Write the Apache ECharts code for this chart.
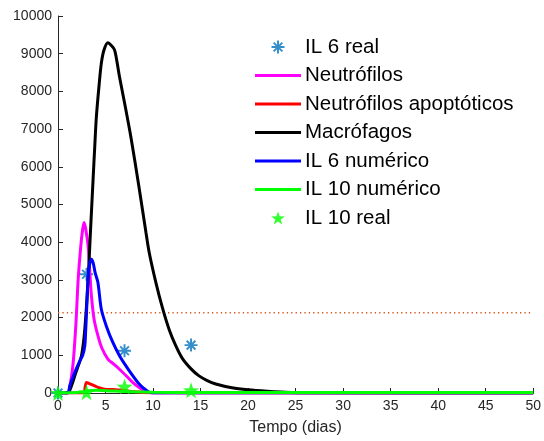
<!DOCTYPE html>
<html>
<head>
<meta charset="utf-8">
<script src="https://cdn.jsdelivr.net/npm/echarts@6/dist/echarts.min.js"></script>
<style>
  html, body { margin: 0; padding: 0; background: #fff; }
  #chart { width: 544px; height: 441px; }
</style>
</head>
<body>
<div id="chart"></div>
<script>
// curvas do modelo (dias, valor) e dados reais

var neutroT = [0, 1.0, 1.3, 1.6, 1.9, 2.12, 2.4, 2.6, 2.75, 2.95, 3.17, 3.35, 3.52, 3.8, 4.2, 4.6, 5.25, 5.8, 6.47, 7.2, 7.86, 8.4, 8.9, 9.5, 10, 50];
var neutroV = [0, 0, 250, 810, 1900, 3000, 3900, 4350, 4520, 4300, 3900, 3200, 2570, 1950, 1520, 1200, 900, 780, 630, 450, 280, 170, 90, 20, 0, 0];

var apoptT = [0, 2.7, 2.85, 3.0, 3.2, 3.5, 3.86, 4.3, 4.9, 5.8, 6.65, 7.5, 8.5, 9.5, 50];
var apoptV = [0, 0, 150, 280, 260, 230, 190, 140, 100, 90, 80, 50, 25, 5, 0];

var macroT = [0, 1.0, 1.5, 1.77, 2.1, 2.47, 2.75, 3.0, 3.17, 3.4, 3.69, 3.86, 4.03, 4.31, 4.56, 4.84, 5.25, 5.6, 5.95, 6.23, 6.47, 7.0, 7.69, 8.5, 9.26, 9.6, 10.3, 11.0, 11.7, 12.4, 13.08, 14.0, 14.8, 15.7, 16.6, 18.3, 20, 22, 23.5, 26, 50];
var macroV = [0, 0, 250, 460, 700, 990, 1500, 2310, 3000, 4200, 5660, 6500, 7300, 8130, 8750, 9100, 9290, 9220, 9100, 8750, 8390, 7700, 6760, 5500, 4250, 3720, 2930, 2250, 1680, 1250, 920, 640, 460, 330, 240, 140, 85, 45, 25, 5, 0];

var il6T = [0, 1.0, 1.25, 1.77, 2.3, 2.6, 2.82, 2.92, 3.0, 3.17, 3.35, 3.52, 3.7, 3.9, 4.2, 4.56, 5.08, 5.77, 6.47, 7.2, 7.86, 8.4, 8.9, 9.6, 10.2, 50];
var il6V = [0, 0, 200, 550, 850, 1000, 1250, 1700, 2130, 3100, 3450, 3550, 3450, 3200, 2930, 2220, 1780, 1340, 990, 700, 460, 280, 150, 20, 0, 0];

var il10T = [0, 1, 2, 2.8, 3.2, 4, 5, 6, 7, 8, 10, 15, 50];
var il10V = [0, 5, 15, 30, 60, 70, 60, 50, 40, 30, 20, 10, 10];

var il6RealT = [0, 3, 7, 14];
var il6RealV = [0, 3150, 1120, 1270];

var il10RealT = [0, 3, 7, 14];
var il10RealV = [0, 20, 170, 70];

var limiar = 2130;

var names = ['IL 6 real', 'Neutrófilos', 'Neutrófilos apoptóticos', 'Macrófagos', 'IL 6 numérico', 'IL 10 numérico', 'IL 10 real'];

function pares(t, v) {
    return t.map(function (d, i) { return [d, v[i]]; });
}

var asterisco = 'path://M0 8.5L20 8.5L20 11.5L0 11.5Z M8.5 0L11.5 0L11.5 20L8.5 20Z M4.34 2.22L17.78 15.66L15.66 17.78L2.22 4.34Z M2.22 15.66L15.66 2.22L17.78 4.34L4.34 17.78Z';
var estrela = 'path://M10 0L12.35 6.76L19.51 6.91L13.8 11.24L15.88 18.09L10 14L4.12 18.09L6.2 11.24L0.49 6.91L7.65 6.76Z';
var traco = 'path://M0 0L46 0L46 3L0 3Z';

var chart = echarts.init(document.getElementById('chart'));

function curva(nome, t, v, cor) {
    return {
        name: nome,
        type: 'line',
        data: pares(t, v),
        symbol: 'none',
        showSymbol: false,
        smooth: 0.3,
        lineStyle: { color: cor, width: 3 },
        itemStyle: { color: cor }
    };
}

var legendData = names.map(function (n) {
    if (n === 'IL 6 real') return { name: n, icon: asterisco };
    if (n === 'IL 10 real') return { name: n, icon: estrela };
    return { name: n, icon: traco };
});

var option = {
    animation: false,
    textStyle: { fontFamily: 'Liberation Sans, Arial, sans-serif' },
    grid: { left: 58, right: 7, top: 16, bottom: 47 },
    legend: {
        data: legendData,
        orient: 'vertical',
        left: 250,
        top: 31,
        itemWidth: 46,
        itemHeight: 13,
        itemGap: 6.5,
        textStyle: { fontSize: 20.5, color: '#000', lineHeight: 22, padding: [0, 0, 0, -1] }
    },
    xAxis: {
        type: 'value',
        min: 0,
        max: 50,
        interval: 5,
        name: 'Tempo (dias)',
        nameLocation: 'middle',
        nameGap: 27,
        nameTextStyle: { fontSize: 16, color: '#262626' },
        axisLine: { lineStyle: { color: '#262626', width: 1 } },
        axisTick: { inside: true, length: 5, lineStyle: { color: '#262626' } },
        axisLabel: { fontSize: 14, color: '#262626', margin: 6 },
        splitLine: { show: false }
    },
    yAxis: {
        type: 'value',
        min: 0,
        max: 10000,
        interval: 1000,
        axisLine: { show: true, lineStyle: { color: '#262626', width: 1 } },
        axisTick: { show: true, inside: true, length: 5, lineStyle: { color: '#262626' } },
        axisLabel: {
            fontSize: 14, color: '#262626', margin: 6,
            formatter: function (v) { return String(v); }
        },
        splitLine: { show: false }
    },
    series: [
        {
            name: 'limiar',
            type: 'line',
            data: [[0, limiar], [50, limiar]],
            symbol: 'none',
            lineStyle: { color: '#D95319', width: 1.4, type: [1.3, 3.1] },
            silent: true,
            z: 1
        },
        {
            name: 'IL 6 real',
            type: 'scatter',
            data: pares(il6RealT, il6RealV),
            symbol: asterisco,
            symbolSize: 13,
            itemStyle: { color: '#0072BD' },
            z: 2
        },
        curva('Neutrófilos', neutroT, neutroV, '#FF00FF'),
        curva('Neutrófilos apoptóticos', apoptT, apoptV, '#FF0000'),
        curva('Macrófagos', macroT, macroV, '#000000'),
        curva('IL 6 numérico', il6T, il6V, '#0000FF'),
        curva('IL 10 numérico', il10T, il10V, '#00FF00'),
        {
            name: 'IL 10 real',
            type: 'scatter',
            data: pares(il10RealT, il10RealV),
            symbol: estrela,
            symbolSize: 16,
            itemStyle: { color: '#00FF00' },
            z: 5
        }
    ]
};

chart.setOption(option);
</script>
</body>
</html>
